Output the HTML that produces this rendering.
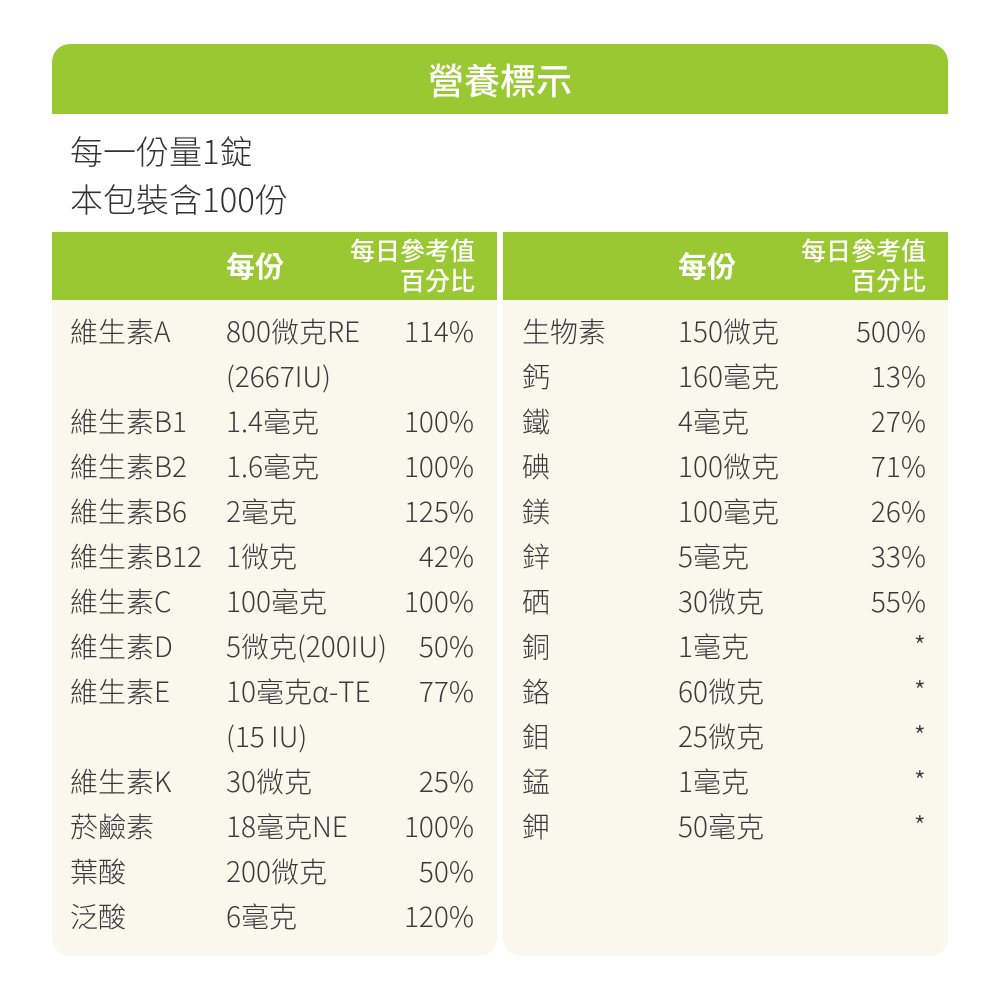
<!DOCTYPE html>
<html><head><meta charset="utf-8"><style>
*{margin:0;padding:0;box-sizing:border-box}
body{width:1000px;height:1000px;background:#fff;position:relative;font-family:"Noto Sans CJK TC","Liberation Sans",sans-serif;color:#333;overflow:hidden}
.a{position:absolute;white-space:nowrap;line-height:1}
.hdr{position:absolute;left:52px;top:44px;width:896px;height:70px;background:#9ac832;border-radius:18px 18px 0 0;color:#fff;font-size:36px;font-weight:500;text-align:center;line-height:70px}
.tb{position:absolute;top:232px;width:445px;height:724px;background:#f8f9ec;border-radius:0 0 18px 18px}
.th{position:absolute;left:0;top:0;width:445px;height:68px;background:#9ac832;color:#fff}
.r{font-size:28px;font-weight:300;color:#3a3a3a}
.p{text-align:right}
</style></head><body>
<div class="hdr">營養標示</div>
<div class="a" style="left:70px;top:134px;font-size:33px;font-weight:300">每一份量1錠</div>
<div class="a" style="left:70px;top:182px;font-size:33px;font-weight:300">本包裝含100份</div>
<div class="tb" style="left:52px"><div class="th">
<div class="a" style="left:174px;top:19px;font-size:29px;font-weight:bold">每份</div>
<div class="a" style="right:22px;top:3px;font-size:25px;font-weight:500;text-align:right;line-height:30px">每日參考值<br>百分比</div></div></div>
<div class="tb" style="left:503px"><div class="th">
<div class="a" style="left:175px;top:19px;font-size:29px;font-weight:bold">每份</div>
<div class="a" style="right:22px;top:3px;font-size:25px;font-weight:500;text-align:right;line-height:30px">每日參考值<br>百分比</div></div></div>
<div id="rows"></div>
<script>
var L=[["維生素A","800微克RE","114%"],["","(2667IU)",""],["維生素B1","1.4毫克","100%"],["維生素B2","1.6毫克","100%"],["維生素B6","2毫克","125%"],["維生素B12","1微克","42%"],["維生素C","100毫克","100%"],["維生素D","5微克(200IU)","50%"],["維生素E","10毫克α-TE","77%"],["","(15 IU)",""],["維生素K","30微克","25%"],["菸鹼素","18毫克NE","100%"],["葉酸","200微克","50%"],["泛酸","6毫克","120%"]];
var R=[["生物素","150微克","500%"],["鈣","160毫克","13%"],["鐵","4毫克","27%"],["碘","100微克","71%"],["鎂","100毫克","26%"],["鋅","5毫克","33%"],["硒","30微克","55%"],["銅","1毫克","*"],["鉻","60微克","*"],["鉬","25微克","*"],["錳","1毫克","*"],["鉀","50毫克","*"]];
var h="";
function add(a,x0,x1,x2){a.forEach(function(r,i){var t=317+i*45;
h+='<div class="a r" style="left:'+x0+'px;top:'+t+'px">'+r[0]+'</div>';
h+='<div class="a r" style="left:'+x1+'px;top:'+t+'px">'+r[1]+'</div>';
h+='<div class="a r p" style="right:'+(1000-x2)+'px;top:'+t+'px">'+r[2]+'</div>';});}
add(L,70,226,474);add(R,522,678,926);
document.getElementById("rows").innerHTML=h;
</script>
</body></html>
